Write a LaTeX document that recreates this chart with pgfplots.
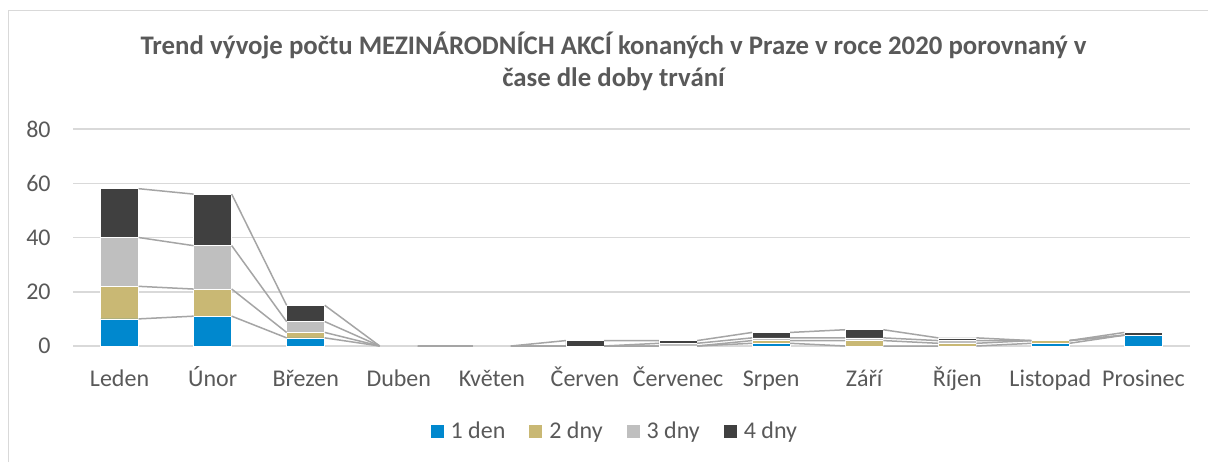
\documentclass[border=0pt]{standalone}
\usepackage{pgfplots}
\usepackage{pgfplotstable}
\pgfplotsset{compat=1.18}
\usepackage{fontspec}
\setmainfont{Carlito}
\definecolor{cblue}{RGB}{0,136,206}
\definecolor{ctan}{RGB}{201,184,116}
\definecolor{cgray}{RGB}{191,191,191}
\definecolor{cdark}{RGB}{64,64,64}
\definecolor{ctext}{RGB}{89,89,89}
\definecolor{cgrid}{RGB}{217,217,217}
\definecolor{cline}{RGB}{165,165,165}
\pgfplotstableread{
x d1 d2 d3 d4
0 10 12 18 18
1 11 10 16 19
2 3 2 4 6
3 0 0 0 0
4 0 0 0 0
5 0 0 0 2
6 0 0 1 1
7 1 1 1 2
8 0 2 1 3
9 0 1 1 1
10 1 1 0 0
11 4 0 0 1
}\data
\begin{document}
\begin{tikzpicture}
\useasboundingbox (0,0) rectangle (604pt,231pt);
\fill[white] (0,0) rectangle (604pt,231pt);
\draw[cgrid, line width=0.75pt] (4.25pt,0) -- (4.25pt,225.75pt) -- (604pt,225.75pt);
\node[font=\fontsize{13.4}{16}\selectfont\bfseries, text=ctext, align=center] at (306.75pt,200.5pt) {Trend vývoje počtu MEZINÁRODNÍCH AKCÍ konaných v Praze v roce 2020 porovnaný v\\čase dle doby trvání};
\begin{axis}[
  at={(36.5pt,58pt)}, anchor=south west,
  width=558.5pt, height=108.5pt, scale only axis,
  ybar stacked, bar width=0.41,
  xmin=-0.5, xmax=11.5, ymin=0, ymax=80,
  xtick={0,...,11},
  xticklabels={Leden,Únor,Březen,Duben,Květen,Červen,Červenec,Srpen,Září,Říjen,Listopad,Prosinec},
  ytick={0,20,40,60,80},
  axis line style={draw=none},
  major tick length=0pt,
  ymajorgrids, grid style={cgrid, line width=0.75pt},
  /pgf/number format/assume math mode=true,
  tick label style={font=\fontsize{12}{14}\selectfont, text=ctext},
  yticklabel style={inner sep=0pt, anchor=east, xshift=-11pt},
  xticklabel style={inner sep=0pt, anchor=base, yshift=-20pt},
  legend columns=4,
  legend style={draw=none, fill=none, at={(0.486,-0.396)}, anchor=center,
    font=\fontsize{12}{14}\selectfont, text=ctext,
    /tikz/every odd column/.append style={column sep=0pt},
    /tikz/every even column/.append style={column sep=0pt}},
  legend image code/.code={\fill[#1, draw=none] (0pt,-3.25pt) rectangle (6.5pt,3.25pt);},
]
\addplot[fill=cblue, draw=white, line width=0.3pt] table[x=x,y=d1]{\data};
\addlegendentry{\kern1.5pt 1 den\kern10pt}
\addplot[fill=ctan, draw=white, line width=0.3pt] table[x=x,y=d2]{\data};
\addlegendentry{\kern1.5pt 2 dny\kern10pt}
\addplot[fill=cgray, draw=white, line width=0.3pt] table[x=x,y=d3]{\data};
\addlegendentry{\kern1.5pt 3 dny\kern10pt}
\addplot[fill=cdark, draw=white, line width=0.3pt] table[x=x,y=d4]{\data};
\addlegendentry{\kern1.5pt 4 dny}
\end{axis}
\begin{axis}[
  at={(36.5pt,58pt)}, anchor=south west,
  width=558.5pt, height=108.5pt, scale only axis,
  xmin=-0.5, xmax=11.5, ymin=0, ymax=80,
  hide axis, unbounded coords=jump,
]
\addplot[cline, line width=0.75pt, mark=none] coordinates {(0.205,10)(0.795,11)(0.8,nan)(1.205,11)(1.795,3)(1.8,nan)(2.205,3)(2.795,0)(2.8,nan)(3.205,0)(3.795,0)(3.8,nan)(4.205,0)(4.795,0)(4.8,nan)(5.205,0)(5.795,0)(5.8,nan)(6.205,0)(6.795,1)(6.8,nan)(7.205,1)(7.795,0)(7.8,nan)(8.205,0)(8.795,0)(8.8,nan)(9.205,0)(9.795,1)(9.8,nan)(10.205,1)(10.795,4)};
\addplot[cline, line width=0.75pt, mark=none] coordinates {(0.205,22)(0.795,21)(0.8,nan)(1.205,21)(1.795,5)(1.8,nan)(2.205,5)(2.795,0)(2.8,nan)(3.205,0)(3.795,0)(3.8,nan)(4.205,0)(4.795,0)(4.8,nan)(5.205,0)(5.795,0)(5.8,nan)(6.205,0)(6.795,2)(6.8,nan)(7.205,2)(7.795,2)(7.8,nan)(8.205,2)(8.795,1)(8.8,nan)(9.205,1)(9.795,2)(9.8,nan)(10.205,2)(10.795,4)};
\addplot[cline, line width=0.75pt, mark=none] coordinates {(0.205,40)(0.795,37)(0.8,nan)(1.205,37)(1.795,9)(1.8,nan)(2.205,9)(2.795,0)(2.8,nan)(3.205,0)(3.795,0)(3.8,nan)(4.205,0)(4.795,0)(4.8,nan)(5.205,0)(5.795,1)(5.8,nan)(6.205,1)(6.795,3)(6.8,nan)(7.205,3)(7.795,3)(7.8,nan)(8.205,3)(8.795,2)(8.8,nan)(9.205,2)(9.795,2)(9.8,nan)(10.205,2)(10.795,4)};
\addplot[cline, line width=0.75pt, mark=none] coordinates {(0.205,58)(0.795,56)(0.8,nan)(1.205,56)(1.795,15)(1.8,nan)(2.205,15)(2.795,0)(2.8,nan)(3.205,0)(3.795,0)(3.8,nan)(4.205,0)(4.795,2)(4.8,nan)(5.205,2)(5.795,2)(5.8,nan)(6.205,2)(6.795,5)(6.8,nan)(7.205,5)(7.795,6)(7.8,nan)(8.205,6)(8.795,3)(8.8,nan)(9.205,3)(9.795,2)(9.8,nan)(10.205,2)(10.795,5)};
\end{axis}
\end{tikzpicture}
\end{document}
